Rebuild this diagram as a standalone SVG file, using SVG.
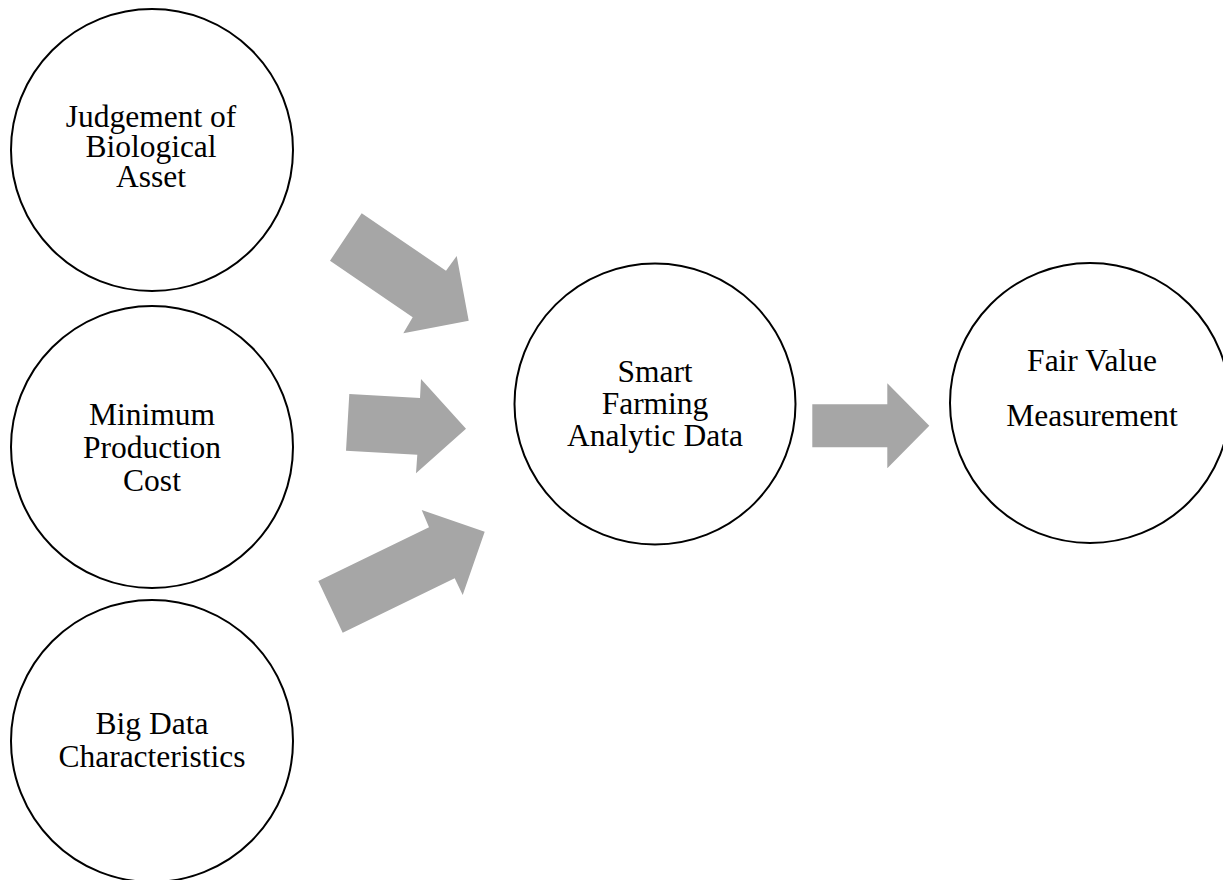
<svg xmlns="http://www.w3.org/2000/svg" width="1223" height="880" viewBox="0 0 1223 880">
<style>
.node circle{fill:#ffffff;stroke:#000000;stroke-width:2}
.node text{font-family:"Liberation Serif","Times New Roman",serif;font-size:31.5px;fill:#000000;text-anchor:middle}
.arrow{fill:#a6a6a6;stroke:none}
</style>
<rect width="1223" height="880" fill="#ffffff"/>
<g id="connectors">
<polygon class="arrow" points="361.7,213.3 446,270.7 456.7,256 468.7,320.7 403.3,333.3 412.7,317.3 330,260.7"/>
<polygon class="arrow" points="349.3,394 420,398 421,379 466,428.7 416,473.3 417.3,454.7 346,450.7"/>
<polygon class="arrow" points="318.3,581 429,527.3 421.7,510 484.7,531.7 462.7,595 454.7,578.3 342.7,632.7"/>
<polygon class="arrow" points="812.3,404.3 887.3,404.3 887.3,383.3 929.3,425.7 887.3,468.3 887.3,447.3 812.3,447.3"/>
</g>
<g id="node-judgement" class="node">
<circle cx="152" cy="150" r="141"/>
<text x="151" y="127">Judgement of</text>
<text x="151" y="157">Biological</text>
<text x="151" y="187">Asset</text>
</g>
<g id="node-minimum" class="node">
<circle cx="152" cy="447" r="141"/>
<text x="152" y="425">Minimum</text>
<text x="152" y="457.5">Production</text>
<text x="152" y="490.5">Cost</text>
</g>
<g id="node-bigdata" class="node">
<circle cx="152" cy="741" r="141"/>
<text x="152" y="733.5">Big Data</text>
<text x="152" y="766.5">Characteristics</text>
</g>
<g id="node-smart" class="node">
<circle cx="655" cy="404" r="140.5"/>
<text x="655" y="381.5">Smart</text>
<text x="655" y="413.5">Farming</text>
<text x="655" y="446">Analytic Data</text>
</g>
<g id="node-fair" class="node">
<circle cx="1090" cy="403" r="140"/>
<text x="1092" y="371">Fair Value</text>
<text x="1092" y="426">Measurement</text>
</g>
</svg>
